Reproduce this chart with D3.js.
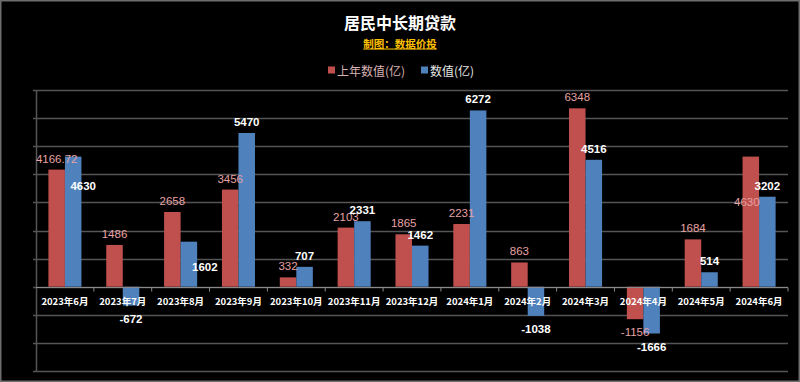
<!DOCTYPE html>
<html lang="zh">
<head>
<meta charset="UTF-8">
<title>居民中长期贷款</title>
<script src="https://d3js.org/d3.v7.min.js"></script>
<style>
  body { margin: 0; background: #000; }
  svg { display: block; }
</style>
</head>
<body>
<svg id="chart" width="800" height="382"></svg>
<script>
// chart data
const months = ["2023年6月", "2023年7月", "2023年8月", "2023年9月", "2023年10月", "2023年11月", "2023年12月",
                "2024年1月", "2024年2月", "2024年3月", "2024年4月", "2024年5月", "2024年6月"];
const lastYear = [4166.72, 1486, 2658, 3456, 332, 2103, 1865, 2231, 863, 6348, -1156, 1684, 4630];
const thisYear = [4630, -672, 1602, 5470, 707, 2331, 1462, 6272, -1038, 4516, -1666, 514, 3202];
const seriesNames = ["上年数值(亿)", "数值(亿)"];
const yTicks = d3.range(-3000, 7001, 1000);

// a few labels were dragged by hand in the original
const labelNudge = {
  "1-0": [10, 40],
  "1-2": [16, 36],
  "0-12": [-4, 56]
};

const W = 800, H = 382;
const plot = { left: 36, right: 788, top: 90, bottom: 371 };
const colors = ["#c0504d", "#4f81bd"];

const svg = d3.select("#chart");

// outer frame
svg.append("rect")
  .attr("x", 0.5).attr("y", 0.5)
  .attr("width", W - 1).attr("height", H - 1)
  .attr("fill", "#000")
  .attr("stroke", "#6e6e6e")
  .attr("stroke-width", 2);

const x0 = d3.scaleBand().domain(months).range([plot.left, plot.right]).paddingInner(0).paddingOuter(0);
const x1 = d3.scaleBand().domain([0, 1]).range([0, x0.bandwidth()]).paddingInner(0).paddingOuter(0.75);
const y = d3.scaleLinear().domain([-3000, 7000]).range([plot.bottom, plot.top]);

// gridlines
svg.append("g")
  .selectAll("line")
  .data(yTicks)
  .join("line")
  .attr("x1", plot.left - 3)
  .attr("x2", plot.right)
  .attr("y1", d => Math.round(y(d)) + 0.5)
  .attr("y2", d => Math.round(y(d)) + 0.5)
  .attr("stroke", "#555")
  .attr("stroke-width", 1.5);

// vertical axis line
svg.append("line")
  .attr("x1", plot.left + 0.5).attr("x2", plot.left + 0.5)
  .attr("y1", plot.top).attr("y2", plot.bottom)
  .attr("stroke", "#555")
  .attr("stroke-width", 1.5);

// bars
const groups = svg.append("g")
  .selectAll("g")
  .data(months)
  .join("g")
  .attr("transform", d => `translate(${x0(d)},0)`);

const barData = (m, i) => [lastYear[i], thisYear[i]].map((v, s) => ({ v, s, i }));

groups.selectAll("rect")
  .data(barData)
  .join("rect")
  .attr("x", d => x1(d.s))
  .attr("width", x1.bandwidth())
  .attr("y", d => y(Math.max(0, d.v)))
  .attr("height", d => Math.abs(y(d.v) - y(0)))
  .attr("fill", d => colors[d.s]);

// zero axis with category ticks
const zeroY = Math.round(y(0)) + 0.5;
svg.append("line")
  .attr("x1", plot.left).attr("x2", plot.right)
  .attr("y1", zeroY).attr("y2", zeroY)
  .attr("stroke", "#8a8a8a")
  .attr("stroke-width", 1.2);

svg.append("g")
  .selectAll("line")
  .data(months.slice(1).concat(["end"]))
  .join("line")
  .attr("x1", (d, i) => plot.left + x0.step() * (i + 1))
  .attr("x2", (d, i) => plot.left + x0.step() * (i + 1))
  .attr("y1", zeroY).attr("y2", zeroY + 4)
  .attr("stroke", "#8a8a8a");

// category labels
svg.append("g")
  .selectAll("text")
  .data(months)
  .join("text")
  .attr("x", d => x0(d) + x0.bandwidth() / 2)
  .attr("y", 301)
  .attr("text-anchor", "middle")
  .attr("dominant-baseline", "central")
  .attr("font-family", "'Noto Sans CJK SC', sans-serif")
  .attr("font-size", "9.5px")
  .attr("font-weight", "bold")
  .attr("fill", "#fff")
  .text(d => d);

// value labels
groups.selectAll("text")
  .data(barData)
  .join("text")
  .attr("x", d => {
    const n = labelNudge[d.s + "-" + d.i];
    return x1(d.s) + x1.bandwidth() / 2 + (n ? n[0] : 0);
  })
  .attr("y", d => {
    const n = labelNudge[d.s + "-" + d.i];
    if (n) return y(d.v) - 11 + n[1];
    return d.v >= 0 ? y(d.v) - 11 : y(d.v) + 13;
  })
  .attr("text-anchor", "middle")
  .attr("dominant-baseline", "central")
  .attr("font-family", "'Liberation Sans', Arial, sans-serif")
  .attr("font-size", "11.5px")
  .attr("font-weight", d => d.s === 1 ? "bold" : "normal")
  .attr("fill", d => d.s === 1 ? "#ffffff" : "#e6a3a3")
  .text(d => d.v);

// title
svg.append("text")
  .attr("x", W / 2).attr("y", 22)
  .attr("text-anchor", "middle")
  .attr("dominant-baseline", "central")
  .attr("font-family", "'Noto Sans CJK SC', sans-serif")
  .attr("font-size", "16px")
  .attr("font-weight", "bold")
  .attr("fill", "#fff")
  .text("居民中长期贷款");

svg.append("text")
  .attr("x", W / 2).attr("y", 43)
  .attr("text-anchor", "middle")
  .attr("dominant-baseline", "central")
  .attr("font-family", "'Noto Sans CJK SC', sans-serif")
  .attr("font-size", "10.5px")
  .attr("font-weight", "bold")
  .attr("fill", "#ffc000")
  .attr("text-decoration", "underline")
  .text("制图：数据价投");

// legend
const legendX = [328, 421];
const legendColors = ["#d9b3b3", "#e6e6e6"];
const legend = svg.append("g")
  .selectAll("g")
  .data(seriesNames)
  .join("g")
  .attr("transform", (d, i) => `translate(${legendX[i]},70)`);

legend.append("rect")
  .attr("x", 0).attr("y", -3.5)
  .attr("width", 7).attr("height", 7)
  .attr("fill", (d, i) => colors[i]);

legend.append("text")
  .attr("x", 9).attr("y", 0)
  .attr("dominant-baseline", "central")
  .attr("font-family", "'Noto Sans CJK SC', sans-serif")
  .attr("font-size", "12px")
  .attr("fill", (d, i) => legendColors[i])
  .text(d => d);
</script>
</body>
</html>
